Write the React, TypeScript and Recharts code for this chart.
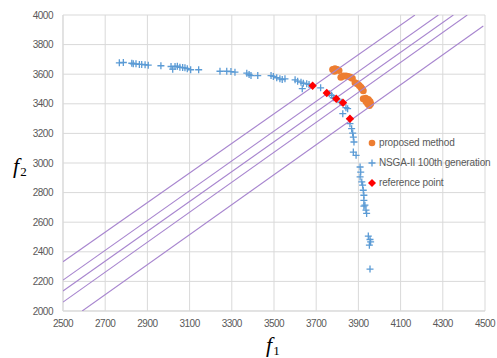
import { ScatterChart, Scatter, XAxis, YAxis, CartesianGrid, Label } from "recharts";

const X_TICKS = [2500, 2700, 2900, 3100, 3300, 3500, 3700, 3900, 4100, 4300, 4500];
const Y_TICKS = [2000, 2200, 2400, 2600, 2800, 3000, 3200, 3400, 3600, 3800, 4000];

// [f1, f2]
const proposedMethod = [
  [3778, 3632], [3789, 3637], [3800, 3632], [3808, 3625], [3786, 3620],
  [3817, 3580], [3828, 3587], [3841, 3587], [3852, 3585], [3863, 3580], [3871, 3573],
  [3884, 3542], [3895, 3535], [3904, 3523], [3912, 3512], [3917, 3502], [3923, 3488],
  [3923, 3434], [3935, 3438], [3947, 3429], [3955, 3416], [3958, 3401], [3952, 3389],
  [3944, 3401], [3936, 3416],
];

const nsga2Gen100 = [
  [2767, 3677], [2786, 3679], [2826, 3674], [2833, 3670], [2846, 3670], [2862, 3666],
  [2873, 3666], [2889, 3664], [2904, 3661], [2964, 3657], [3012, 3652], [3020, 3634],
  [3031, 3652], [3042, 3654], [3054, 3647], [3067, 3645], [3078, 3643], [3089, 3637],
  [3105, 3630], [3143, 3630], [3244, 3620], [3276, 3620], [3296, 3618], [3315, 3614],
  [3371, 3607], [3382, 3598], [3391, 3591], [3423, 3591], [3486, 3591], [3497, 3585],
  [3513, 3576], [3528, 3569], [3539, 3564], [3552, 3569], [3600, 3562], [3612, 3553],
  [3628, 3546], [3634, 3502], [3639, 3539], [3655, 3535], [3666, 3531], [3721, 3508],
  [3762, 3468], [3773, 3457], [3781, 3441], [3813, 3411], [3821, 3411], [3841, 3374],
  [3826, 3333], [3849, 3367], [3860, 3299], [3860, 3266], [3868, 3232], [3873, 3202],
  [3876, 3175], [3879, 3142], [3876, 3074], [3889, 3052], [3908, 2973], [3911, 2939],
  [3908, 2906], [3916, 2872], [3920, 2850], [3923, 2816], [3926, 2782], [3926, 2748],
  [3931, 2715], [3936, 2681], [3939, 2659], [3926, 2708], [3947, 2506], [3955, 2483],
  [3958, 2467], [3952, 2445], [3955, 2283],
];

const referencePoints = [
  [3683, 3522], [3750, 3473], [3795, 3434], [3827, 3407], [3860, 3299],
];

// straight guide lines, start and end
const guideLines = [
  [[2500, 2333], [4168, 4000]],
  [[2500, 2209], [4279, 4000]],
  [[2500, 2135], [4350, 4000]],
  [[2500, 2060], [4416, 4000]],
  [[2591, 2000], [4492, 3926]],
];

const toPoints = (rows: number[][]) => rows.map(([x, y]) => ({ x, y }));

const TEXT = "#595959";
const GRID = "#d9d9d9";
const BLUE = "#5b9bd5";
const ORANGE = "#ed7d31";
const RED = "#ff0000";
const PURPLE = "#a886cf";

const Plus = ({ cx, cy }: any) => (
  <path d={`M${cx - 3.5},${cy}h7M${cx},${cy - 3.5}v7`} stroke={BLUE} strokeWidth={1.3} fill="none" />
);
const Dot = ({ cx, cy }: any) => <circle cx={cx} cy={cy} r={3.5} fill={ORANGE} />;
const Diamond = ({ cx, cy }: any) => (
  <path d={`M${cx},${cy - 4.2}L${cx + 4.2},${cy}L${cx},${cy + 4.2}L${cx - 4.2},${cy}Z`} fill={RED} />
);
const NoDot = () => <g />;

const legendItems = [
  { name: "proposed method", icon: <circle cx={6} cy={6} r={3.3} fill={ORANGE} /> },
  { name: "NSGA-II 100th generation", icon: <path d="M2.5,6h7M6,2.5v7" stroke={BLUE} strokeWidth={1.3} /> },
  { name: "reference point", icon: <path d="M6,2L10,6L6,10L2,6Z" fill={RED} /> },
];

function LegendBox() {
  return (
    <div style={{ position: "absolute", left: 366, top: 136, display: "flex", flexDirection: "column", gap: 7 }}>
      {legendItems.map((it) => (
        <div key={it.name} style={{ display: "flex", alignItems: "center", height: 13 }}>
          <svg width={12} height={12} style={{ marginRight: 1 }}>{it.icon}</svg>
          <span style={{ fontSize: 10, color: TEXT, letterSpacing: "-0.15px", whiteSpace: "nowrap" }}>
            {it.name}
          </span>
        </div>
      ))}
    </div>
  );
}

const tickStyle = { fill: TEXT, fontSize: 10, letterSpacing: "-0.5px" };

export default function App() {
  return (
    <div
      style={{
        position: "relative",
        width: 497,
        height: 358,
        fontFamily: "'Liberation Sans', Arial, sans-serif",
        background: "#fff",
      }}
    >
      <style>{`body{margin:0}`}</style>
      <ScatterChart width={497} height={358} margin={{ top: 15, right: 12, bottom: 0, left: 0 }}>
        <CartesianGrid stroke={GRID} strokeWidth={1} />
        <XAxis
          type="number"
          dataKey="x"
          domain={[2500, 4500]}
          ticks={X_TICKS}
          allowDataOverflow
          height={47}
          tickLine={false}
          axisLine={{ stroke: GRID }}
          tick={tickStyle}
          tickMargin={3}
        >
          <Label
            content={() => (
              <text x={266} y={352} fontFamily="'Liberation Serif', serif" fill="#000">
                <tspan fontSize={22} fontStyle="italic">f</tspan>
                <tspan fontSize={13} dx={1} dy={3}>1</tspan>
              </text>
            )}
          />
        </XAxis>
        <YAxis
          type="number"
          dataKey="y"
          domain={[2000, 4000]}
          ticks={Y_TICKS}
          allowDataOverflow
          width={63}
          tickLine={false}
          axisLine={{ stroke: GRID }}
          tick={tickStyle}
          tickMargin={4}
        >
          <Label
            content={() => (
              <text x={13} y={173} fontFamily="'Liberation Serif', serif" fill="#000">
                <tspan fontSize={22} fontStyle="italic">f</tspan>
                <tspan fontSize={13} dx={1} dy={3}>2</tspan>
              </text>
            )}
          />
        </YAxis>
        <Scatter name="proposed method" data={toPoints(proposedMethod)} shape={Dot} isAnimationActive={false} />
        <Scatter name="NSGA-II 100th generation" data={toPoints(nsga2Gen100)} shape={Plus} isAnimationActive={false} />
        {guideLines.map((seg, i) => (
          <Scatter
            key={i}
            data={toPoints(seg)}
            line={{ stroke: PURPLE, strokeWidth: 1.1 }}
            shape={NoDot}
            legendType="none"
            isAnimationActive={false}
          />
        ))}
        <Scatter name="reference point" data={toPoints(referencePoints)} shape={Diamond} isAnimationActive={false} />
      </ScatterChart>
      <LegendBox />
    </div>
  );
}
